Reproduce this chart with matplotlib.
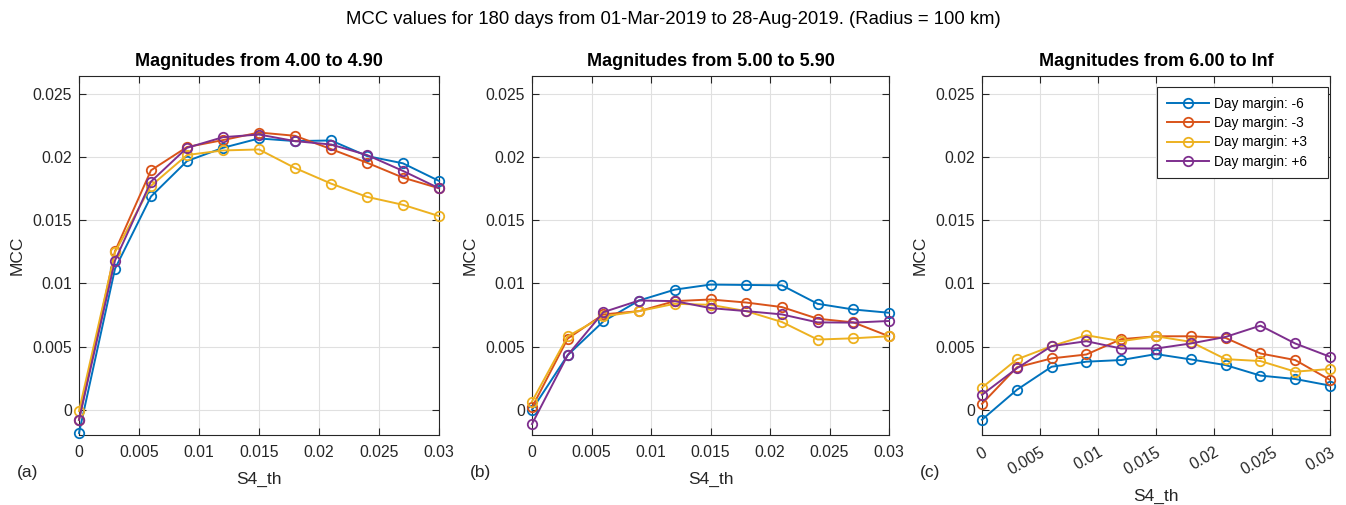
import matplotlib.pyplot as plt
import numpy as np

plt.rcParams['font.family'] = ['Liberation Sans', 'DejaVu Sans']

# S4 threshold values on the x axis
s4_th = [0, 0.003, 0.006, 0.009, 0.012, 0.015, 0.018, 0.021, 0.024, 0.027, 0.03]
margins = ['Day margin: -6', 'Day margin: -3', 'Day margin: +3', 'Day margin: +6']
titles = ['Magnitudes from 4.00 to 4.90', 'Magnitudes from 5.00 to 5.90',
          'Magnitudes from 6.00 to Inf']
panel_tags = ['(a)', '(b)', '(c)']

# MCC per magnitude bin, one row per day margin
mcc_m4 = [
    [-0.00184, 0.01115, 0.01687, 0.01967, 0.02072, 0.02146, 0.02125, 0.0213, 0.02007, 0.01949, 0.0181],
    [-0.0008, 0.01254, 0.01894, 0.02078, 0.02133, 0.02193, 0.02167, 0.02062, 0.01954, 0.01836, 0.01752],
    [-0.0001, 0.01246, 0.01771, 0.02015, 0.02051, 0.02059, 0.01912, 0.01789, 0.01684, 0.01621, 0.01532],
    [-0.0008, 0.0118, 0.01805, 0.02072, 0.02156, 0.02177, 0.02125, 0.02098, 0.02015, 0.01889, 0.01752],
]
mcc_m5 = [
    [0.0, 0.00432, 0.00699, 0.00864, 0.0095, 0.0099, 0.00987, 0.00984, 0.00838, 0.00793, 0.00767],
    [0.00018, 0.00563, 0.00754, 0.0078, 0.00859, 0.00872, 0.00848, 0.00812, 0.0072, 0.00691, 0.00581],
    [0.00065, 0.00581, 0.00738, 0.0078, 0.00838, 0.0083, 0.0078, 0.00694, 0.00555, 0.00565, 0.00581],
    [-0.00113, 0.00432, 0.00772, 0.00864, 0.00859, 0.00804, 0.0078, 0.00754, 0.00691, 0.00689, 0.00702],
]
mcc_m6 = [
    [-0.00079, 0.00157, 0.0034, 0.0038, 0.00393, 0.0044, 0.00398, 0.00353, 0.0027, 0.00243, 0.00191],
    [0.00047, 0.00335, 0.00406, 0.00437, 0.00558, 0.00581, 0.00581, 0.00568, 0.00445, 0.00393, 0.00236],
    [0.00175, 0.00398, 0.00503, 0.00589, 0.00542, 0.00581, 0.00537, 0.004, 0.00385, 0.00301, 0.00322],
    [0.00118, 0.00327, 0.00503, 0.00542, 0.00484, 0.00484, 0.00524, 0.00576, 0.00665, 0.00524, 0.00419],
]
all_mcc = [mcc_m4, mcc_m5, mcc_m6]

colors = ['#0072BD', '#D95319', '#EDB120', '#7E2F8E']
xticks = [0, 0.005, 0.01, 0.015, 0.02, 0.025, 0.03]
xtick_labels = ['0', '0.005', '0.01', '0.015', '0.02', '0.025', '0.03']
yticks = [0, 0.005, 0.01, 0.015, 0.02, 0.025]
ytick_labels = ['0', '0.005', '0.01', '0.015', '0.02', '0.025']

W, H = 1346, 505
fig = plt.figure(figsize=(W / 100, H / 100), dpi=100)

# axes boxes in pixels: left, right
boxes = [(79, 439), (532, 889), (982, 1330)]
top, bottom = 76, 435
ah = bottom - top

for i in range(3):
    l, r = boxes[i]
    aw = r - l
    ax = fig.add_axes([l / W, 1 - bottom / H, aw / W, ah / H])
    for k in range(4):
        ax.plot(s4_th, all_mcc[i][k], '-o', color=colors[k], lw=1.4,
                markersize=6.8, markerfacecolor='none', markeredgewidth=1.3,
                label=margins[k], clip_on=False, zorder=3)
    ax.set_xlim(0, 0.03)
    ax.set_ylim(-0.002, 0.0264)
    ax.set_xticks(xticks)
    ax.set_yticks(yticks)
    ax.set_yticklabels(ytick_labels)
    if i == 2:
        ax.set_xticklabels(xtick_labels, rotation=30, ha='right', va='top',
                           rotation_mode='anchor')
    else:
        ax.set_xticklabels(xtick_labels)
    ax.grid(True, color='#e0e0e0', lw=0.8)
    ax.set_axisbelow(True)
    ax.tick_params(direction='in', top=True, right=True, labelsize=11.3,
                   colors='#262626', length=5)
    ax.tick_params(axis='x', pad=7)
    ax.tick_params(axis='y', pad=5)
    for sp in ax.spines.values():
        sp.set_color('#262626')
        sp.set_linewidth(0.8)
    ax.set_title(titles[i], fontsize=13, fontweight='bold', pad=7)
    ax.set_xlabel('S4_th', fontsize=12.5, color='#262626')
    ax.set_ylabel('MCC', fontsize=12.5, color='#262626')
    if i == 2:
        ax.xaxis.set_label_coords(0.5, -54 / ah)
    else:
        ax.xaxis.set_label_coords(0.5, -37 / ah)
    ax.yaxis.set_label_coords(-54 / aw, 0.5)
    fig.text((l - 62) / W, 1 - 473 / H, panel_tags[i], fontsize=12.5,
             color='#262626', ha='left', va='center')
    if i == 2:
        # legend box spans the right half of the panel, near the top
        x0 = (1157 - l) / aw
        lw_ = (1328 - 1157) / aw
        y_top = 1 - 11 / ah
        leg = ax.legend(loc='upper left', bbox_to_anchor=(x0, y_top - 0.3, lw_, 0.3),
                        mode='expand', borderaxespad=0, fontsize=9.8, framealpha=1,
                        edgecolor='#262626', fancybox=False, borderpad=0.7,
                        handlelength=3.1, handletextpad=0.4, labelspacing=0.4)
        leg.get_frame().set_linewidth(0.8)

fig.suptitle('MCC values for 180 days from 01-Mar-2019 to 28-Aug-2019. (Radius = 100 km)',
             y=1 - 20 / H, fontsize=13.3, va='center')

fig.savefig('out.png', dpi=100)
